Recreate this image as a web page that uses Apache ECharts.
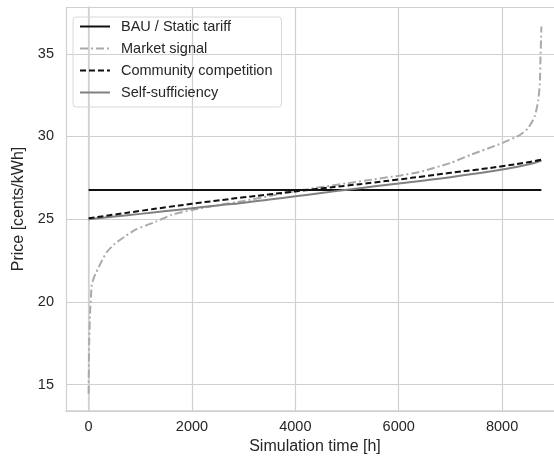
<!DOCTYPE html>
<html>
<head>
<meta charset="utf-8">
<script src="https://cdn.jsdelivr.net/npm/echarts@6/dist/echarts.min.js"></script>
<style>
  html, body { margin: 0; padding: 0; background: #fff; }
  #chart { width: 554px; height: 461px; }
</style>
</head>
<body>
<div id="chart"></div>
<script>
// 数据：近似值
const hours = [0, 500, 1000, 1500, 2000, 2500, 3000, 3500, 4000, 4500, 5000, 5500, 6000, 6500, 7000, 7500, 8000, 8500, 8760];
const bauPrice = [26.77, 26.77, 26.77, 26.77, 26.77, 26.77, 26.77, 26.77, 26.77, 26.77, 26.77, 26.77, 26.77, 26.77, 26.77, 26.77, 26.77, 26.77, 26.77];
const communityPrice = [25.05, 25.28, 25.5, 25.72, 25.93, 26.13, 26.32, 26.5, 26.68, 26.86, 27.03, 27.21, 27.4, 27.6, 27.8, 27.99, 28.2, 28.44, 28.6];
const selfPrice = [25.0, 25.16, 25.32, 25.49, 25.66, 25.83, 26.0, 26.19, 26.38, 26.58, 26.78, 26.97, 27.15, 27.34, 27.54, 27.76, 28.0, 28.3, 28.55];

const marketHours = [0, 10, 30, 60, 100, 150, 250, 350, 500, 700, 900, 1300, 1600, 2000, 2500, 3000, 3500, 4000, 4500, 5000, 5500, 6000, 6400, 7000, 7400, 8000, 8350, 8500, 8630, 8700, 8730, 8745, 8755, 8760];
const marketPrice = [14.45, 17.5, 19.5, 21.0, 21.45, 21.8, 22.45, 23.0, 23.5, 23.95, 24.35, 24.85, 25.25, 25.56, 25.85, 26.1, 26.4, 26.69, 26.94, 27.17, 27.4, 27.63, 27.85, 28.4, 28.9, 29.6, 30.1, 30.5, 31.2, 32.2, 33.2, 35.0, 36.0, 36.65];

const seriesNames = ['BAU / Static tariff', 'Market signal', 'Community competition', 'Self-sufficiency'];

const pairs = (xs, ys) => xs.map((x, i) => [x, ys[i]]);

const chart = echarts.init(document.getElementById('chart'));
const font = 'Liberation Sans, Arial, sans-serif';
const gridColor = '#d0d0d0';

const option = {
    animation: false,
    textStyle: { fontFamily: font },
    grid: { left: 66, right: -10, top: 7, bottom: 50, outerBoundsMode: 'none', containLabel: false },
    legend: {
        orient: 'vertical',
        left: 73, top: 17,
        padding: [2, 9, 7, 6],
        itemGap: 7,
        itemWidth: 30,
        itemHeight: 15,
        borderColor: '#d8d8d8',
        borderWidth: 1,
        borderRadius: 3,
        data: seriesNames,
        itemStyle: { opacity: 0 },
        textStyle: { fontFamily: font, fontSize: 14.5, color: '#262626', padding: [0, 0, 0, 6] }
    },
    xAxis: {
        type: 'value',
        min: -438, max: 9198,
        name: 'Simulation time [h]',
        nameLocation: 'middle',
        nameGap: 21,
        nameTextStyle: { fontSize: 16, color: '#262626', fontFamily: font },
        axisLine: { show: true, lineStyle: { color: gridColor, width: 1.5 } },
        axisTick: { show: false },
        axisLabel: {
            fontSize: 14.5, color: '#262626', margin: 8,
            formatter: v => (v % 2000 === 0 ? String(v) : '')
        },
        splitLine: { show: true, lineStyle: { color: gridColor, width: 1.2 } }
    },
    yAxis: {
        type: 'value',
        min: 13.4, max: 37.83,
        name: 'Price [cents/kWh]',
        nameLocation: 'middle',
        nameGap: 32,
        nameTextStyle: { fontSize: 16, color: '#262626', fontFamily: font },
        axisLine: { show: true, lineStyle: { color: gridColor, width: 1.5 } },
        axisTick: { show: false },
        axisLabel: {
            fontSize: 14.5, color: '#262626', margin: 12,
            formatter: v => (Math.abs(v % 5) < 1e-6 ? String(v) : '')
        },
        splitLine: { show: true, lineStyle: { color: gridColor, width: 1.2 } }
    },
    series: [
        {
            name: seriesNames[0], type: 'line', symbol: 'none',
            data: pairs(hours, bauPrice),
            lineStyle: { color: '#111111', width: 2 }, itemStyle: { color: '#111111' }, z: 3
        },
        {
            name: seriesNames[1], type: 'line', symbol: 'none', smooth: 0.2,
            data: pairs(marketHours, marketPrice),
            lineStyle: { color: '#aaaaaa', width: 2, type: [8, 3, 2, 3] }, itemStyle: { color: '#aaaaaa' }, z: 2
        },
        {
            name: seriesNames[2], type: 'line', symbol: 'none', smooth: true,
            data: pairs(hours, communityPrice),
            lineStyle: { color: '#111111', width: 2, type: [6, 3] }, itemStyle: { color: '#111111' }, z: 4
        },
        {
            name: seriesNames[3], type: 'line', symbol: 'none', smooth: true,
            data: pairs(hours, selfPrice),
            lineStyle: { color: '#808080', width: 2 }, itemStyle: { color: '#808080' }, z: 3
        }
    ]
};
chart.setOption(option);
</script>
</body>
</html>
